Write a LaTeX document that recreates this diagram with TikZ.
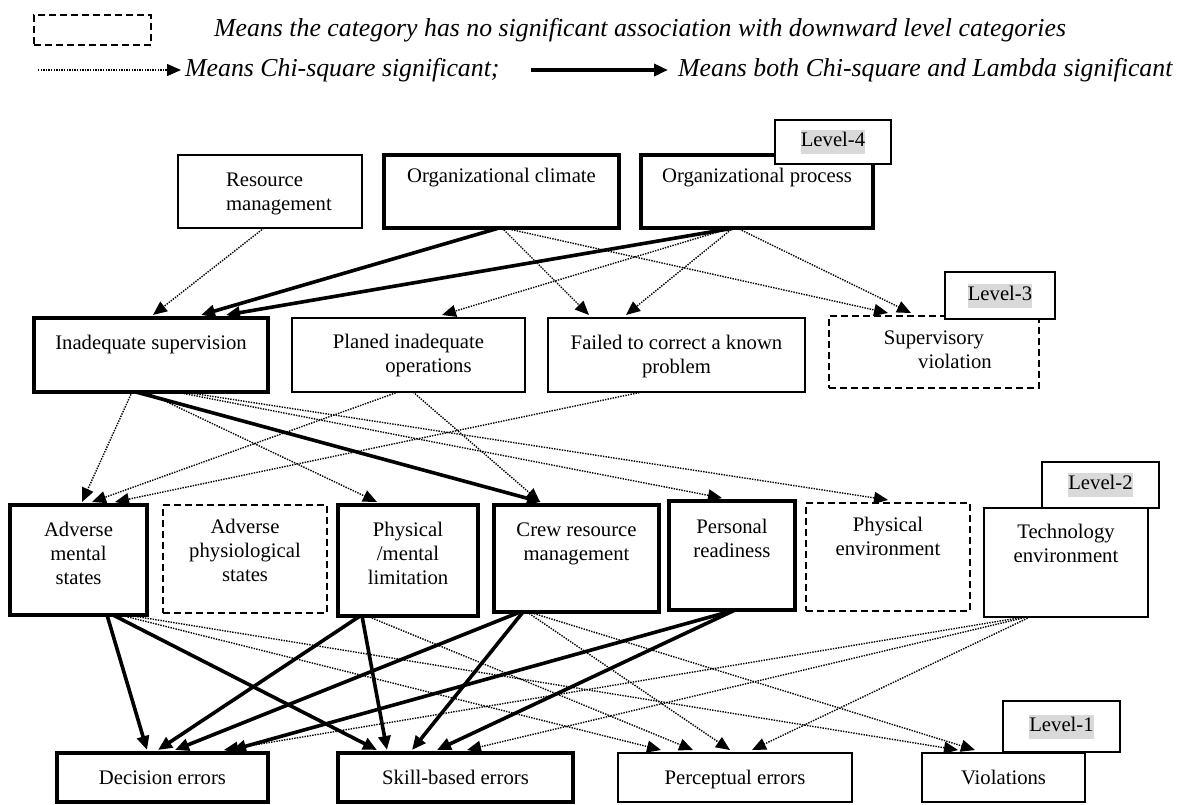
\documentclass[tikz,border=0pt]{standalone}
\usepackage{fontspec}
\setmainfont{Liberation Serif}
\usetikzlibrary{arrows.meta,calc}
\definecolor{hl}{RGB}{217,217,217}
\newcommand{\bt}[4]{\parbox[c][#2][t]{#1}{\centering\rule{0pt}{#3}#4}}
\newcommand{\lv}[1]{{\setlength{\fboxsep}{0pt}\colorbox{hl}{\strut #1}}}
\tikzset{
  base/.style={draw, inner sep=0pt, outer sep=0pt, anchor=north west, fill=white,
    font={\fontsize{20.7}{24}\selectfont}},
  thickbox/.style={base, line width=3.2pt},
  thinbox/.style={base, line width=1.3pt},
  dashbox/.style={base, line width=1.5pt, dash pattern=on 7pt off 4pt},
  lvl/.style={base, line width=1.3pt},
  legend/.style={inner sep=0pt, anchor=west, font={\fontsize{25.8}{30}\selectfont\itshape}},
  sig/.style={line width=3.6pt, -{Triangle[length=14pt,width=12pt]}},
  chi/.style={line width=1.4pt, dash pattern=on 1.4pt off 1.2pt, -{Triangle[length=14pt,width=12pt]}},
}
\begin{document}
\begin{tikzpicture}[x=1pt, y=-1pt]
\useasboundingbox (0,0) rectangle (1183,804);

% legend
\node[dashbox, minimum width=117pt, minimum height=30pt] (lgbox) at (34,15) {};
\node[legend] (lgt1) at (214,30) {Means the category has no significant association with downward level categories};
\coordinate (lda) at (38,70);
\coordinate (ldb) at (181,70);
\draw[chi] (lda) -- (ldb);
\node[legend] (lgt2) at (185,70) {Means Chi-square significant;};
\coordinate (lsa) at (531,70);
\coordinate (lsb) at (668,70);
\draw[sig] (lsa) -- (lsb);
\node[legend] (lgt3) at (678,70) {Means both Chi-square and Lambda significant};

% Level 4
\node[thinbox] (RM) at (178,155) {\parbox[c][73pt][t]{184pt}{\leftskip=48pt\rule{0pt}{31pt}Resource\\management}};
\node[thickbox] (OC) at (384,155) {\bt{235pt}{73pt}{27pt}{Organizational climate}};
\node[thickbox] (OP) at (641,155) {\bt{232pt}{73pt}{27pt}{Organizational process}};
\node[lvl, minimum width=116pt, minimum height=44pt] (L4) at (775,120) {\lv{Level-4}};

% Level 3
\node[thickbox] (IS) at (34,318) {\bt{234pt}{74pt}{31pt}{Inadequate supervision}};
\node[thinbox] (PIO) at (292,318) {\bt{233pt}{74pt}{30pt}{Planed inadequate\\\hspace*{40pt}operations}};
\node[thinbox] (FC) at (548,318) {\bt{257pt}{74pt}{31pt}{Failed to correct a known\\problem}};
\node[dashbox] (SV) at (829,316) {\bt{210pt}{72pt}{28pt}{Supervisory\\\hspace*{42pt}violation}};
\node[lvl, minimum width=110pt, minimum height=47pt] (L3) at (945,272) {\lv{Level-3}};

% Level 2
\node[thickbox] (AM) at (10,505) {\bt{137pt}{110pt}{31pt}{Adverse\\mental\\states}};
\node[dashbox] (APS) at (163,505) {\bt{164pt}{108pt}{28pt}{Adverse\\physiological\\states}};
\node[thickbox] (PM) at (338,505) {\bt{140pt}{111pt}{31pt}{Physical\\/mental\\limitation}};
\node[thickbox] (CRM) at (494,505) {\bt{165pt}{107pt}{31pt}{Crew resource\\management}};
\node[thickbox] (PR) at (669,501) {\bt{126pt}{109pt}{32pt}{Personal\\readiness}};
\node[dashbox] (PE) at (806,503) {\bt{164pt}{108pt}{28pt}{Physical\\environment}};
\node[thinbox] (TE) at (984,508) {\bt{164pt}{109pt}{30pt}{Technology\\environment}};
\node[lvl, minimum width=117pt, minimum height=46pt] (L2) at (1042,462) {\lv{Level-2}};

% Level 1
\node[thickbox] (DE) at (57,753) {\bt{211pt}{49pt}{31pt}{Decision errors}};
\node[thickbox] (SE) at (338,753) {\bt{235pt}{49pt}{31pt}{Skill-based errors}};
\node[thinbox] (PC) at (618,753) {\bt{234pt}{49pt}{31pt}{Perceptual errors}};
\node[thinbox] (VI) at (922,753) {\bt{163pt}{49pt}{31pt}{Violations}};
\node[lvl, minimum width=117pt, minimum height=51pt] (L1) at (1003,701) {\lv{Level-1}};

% Level 4 -> Level 3
\draw[chi] ($(RM.south west)+(86,0)$) -- ($(IS.north west)+(119,-3)$);
\draw[sig] ($(OC.south west)+(115,0)$) -- ($(IS.north west)+(167,-3)$);
\draw[chi] ($(OC.south west)+(118,0)$) -- ($(FC.north west)+(41,-3)$);
\draw[chi] ($(OC.south west)+(120,0)$) -- ($(SV.north west)+(59,-3)$);
\draw[sig] ($(OP.south west)+(93,0)$) -- ($(IS.north west)+(192,-3)$);
\draw[chi] ($(OP.south west)+(90,0)$) -- ($(PIO.north west)+(150,-3)$);
\draw[chi] ($(OP.south west)+(92,0)$) -- ($(FC.north west)+(78,-3)$);
\draw[chi] ($(OP.south west)+(96,0)$) -- ($(SV.north west)+(82,-3)$);

% Level 3 -> Level 2
\draw[chi] ($(IS.south west)+(98,0)$) -- ($(AM.north west)+(72,-3)$);
\draw[sig] ($(IS.south west)+(102,0)$) -- ($(CRM.north west)+(47,-3)$);
\draw[chi] ($(IS.south west)+(112,0)$) -- ($(PM.north west)+(39,-3)$);
\draw[chi] ($(IS.south west)+(142,0)$) -- ($(PR.north west)+(53,-3)$);
\draw[chi] ($(IS.south west)+(150,0)$) -- ($(PE.north west)+(82,-3)$);
\draw[chi] ($(PIO.south west)+(106,0)$) -- ($(AM.north west)+(82,-3)$);
\draw[chi] ($(PIO.south west)+(121,0)$) -- ($(CRM.north west)+(46,-3)$);
\draw[chi] ($(FC.south west)+(94,0)$) -- ($(AM.north west)+(105,-3)$);

% Level 2 -> Level 1
\draw[sig] ($(AM.south west)+(97,0)$) -- ($(DE.north west)+(90,-3)$);
\draw[sig] ($(AM.south west)+(103,0)$) -- ($(SE.north west)+(39,-3)$);
\draw[chi] ($(AM.south west)+(110,0)$) -- ($(PC.north west)+(43,-3)$);
\draw[chi] ($(AM.south west)+(117,0)$) -- ($(VI.north west)+(36,-3)$);
\draw[sig] ($(PM.south west)+(22,0)$) -- ($(DE.north west)+(101,-3)$);
\draw[sig] ($(PM.south west)+(24,0)$) -- ($(SE.north west)+(49,-3)$);
\draw[chi] ($(PM.south west)+(29,0)$) -- ($(PC.north west)+(75,-3)$);
\draw[sig] ($(CRM.south west)+(26,0)$) -- ($(DE.north west)+(118,-3)$);
\draw[sig] ($(CRM.south west)+(29,0)$) -- ($(SE.north west)+(74,-3)$);
\draw[chi] ($(CRM.south west)+(33,0)$) -- ($(PC.north west)+(112,-3)$);
\draw[chi] ($(CRM.south west)+(35,0)$) -- ($(VI.north west)+(53,-3)$);
\draw[sig] ($(PR.south west)+(66,0)$) -- ($(DE.north west)+(175,-3)$);
\draw[sig] ($(PR.south west)+(66,0)$) -- ($(SE.north west)+(99,-3)$);
\draw[chi] ($(TE.south west)+(40,0)$) -- ($(DE.north west)+(167,-3)$);
\draw[chi] ($(TE.south west)+(43,0)$) -- ($(SE.north west)+(129,-3)$);
\draw[chi] ($(TE.south west)+(46,0)$) -- ($(PC.north west)+(134,-3)$);
\end{tikzpicture}
\end{document}
